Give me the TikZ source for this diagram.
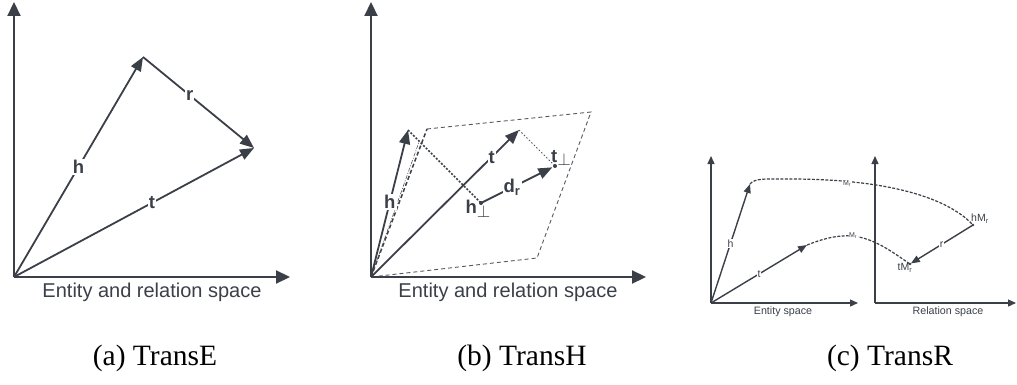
\documentclass[tikz,border=0pt]{standalone}
\usepackage{fontspec}
\setmainfont{Liberation Serif}
\setsansfont{Liberation Sans}
\usetikzlibrary{arrows.meta}
\definecolor{ink}{HTML}{3B3F47}
\definecolor{plane}{HTML}{55585F}
\begin{document}
\begin{tikzpicture}[x=1pt,y=-1pt,
  axis/.style={draw=ink, line width=2.2pt, -{Triangle[length=14pt,width=13pt]}},
  vec/.style={draw=ink, line width=1.8pt, -{Triangle[length=14pt,width=11pt]}},
  lbl/.style={font=\sffamily\bfseries\fontsize{18.5}{18.5}\selectfont, text=ink, fill=white, inner sep=1pt},
  axlbl/.style={font=\sffamily\fontsize{20}{20}\selectfont, text=ink},
  planeline/.style={draw=plane, line width=0.9pt, dash pattern=on 4pt off 3pt},
  saxis/.style={draw=ink, line width=1.2pt, -{Triangle[length=8pt,width=7pt]}},
  svec/.style={draw=ink, line width=1.4pt, -{Triangle[length=9pt,width=7pt]}},
  slbl/.style={font=\sffamily\fontsize{10.5}{10.5}\selectfont, text=ink, fill=white, inner sep=0.5pt},
  tlbl/.style={font=\sffamily\fontsize{7}{7}\selectfont, text=ink, fill=white, inner sep=0.5pt},
  saxlbl/.style={font=\sffamily\fontsize{10.7}{10.7}\selectfont, text=ink},
  curve/.style={draw=ink, line width=1.2pt, dash pattern=on 3pt off 1.5pt},
  captext/.style={font=\fontsize{29.5}{29.5}\selectfont, text=black}
]
\useasboundingbox (0,0) rectangle (1017,385);

% ---------- (a) TransE ----------
\coordinate (aO) at (14,277);
\coordinate (aY) at (14,2);
\coordinate (aX) at (290,277);
\coordinate (aH) at (143,57);
\coordinate (aT) at (254,148);
\draw[axis] (aO) -- (aY);
\draw[axis] (aO) -- (aX);
\draw[vec] (aO) -- node[lbl,pos=0.5] {h} (aH);
\draw[vec] (aH) -- node[lbl,pos=0.42] {r} (aT);
\draw[vec] (aO) -- node[lbl,pos=0.575] {t} (aT);
\node[axlbl] (alab) at (152,292) {Entity and relation space};

% ---------- (b) TransH ----------
\coordinate (bO) at (371,277);
\coordinate (bY) at (371,2);
\coordinate (bX) at (646,277);
\coordinate (bH) at (408,130);
\coordinate (bT) at (519,130);
\coordinate (bP1) at (427,129);
\coordinate (bP2) at (591,112);
\coordinate (bP3) at (537,258);
\coordinate (bD) at (419,142);
\coordinate (hp) at (481,203);
\coordinate (tp) at (555,166);
\draw[planeline] (bP1) -- (bP2) -- (bP3) -- (bO);
\draw[draw=ink, line width=1.5pt, dash pattern=on 4pt off 2.5pt] (bO) -- (bP1);
\draw[draw=plane, line width=0.6pt, dash pattern=on 4pt off 1.5pt on 1pt off 1.5pt] (bO) -- (bD);
\draw[draw=ink, line width=1.6pt, dash pattern=on 2pt off 1.6pt] (bH) -- (hp);
\draw[draw=plane, line width=0.9pt, dash pattern=on 1.5pt off 2pt] (bT) -- (tp);
\draw[axis] (bO) -- (bY);
\draw[axis] (bO) -- (bX);
\draw[vec] (bO) -- node[lbl,pos=0.51] {h} (bH);
\draw[vec] (bO) -- node[lbl,pos=0.815] {t} (bT);
\draw[vec, shorten >=3pt] (hp) -- node[lbl,pos=0.42] {d\textsubscript{r}} (tp);
\fill[ink] (hp) circle (2pt);
\fill[ink] (tp) circle (2pt);
\node[lbl, fill=none, inner sep=0pt] (hpl) at (478,209) {h\raisebox{-0.4ex}{$\perp$}};
\node[lbl, fill=none, inner sep=0pt] (tpl) at (561,158) {t\raisebox{-0.4ex}{$\perp$}};
\node[axlbl] (blab) at (508,292) {Entity and relation space};

% ---------- (c) TransR ----------
\coordinate (cO) at (711,303);
\coordinate (cY) at (711,156);
\coordinate (cX) at (858,303);
\coordinate (rO) at (875,303);
\coordinate (rY) at (875,156);
\coordinate (rX) at (1016,303);
\coordinate (cH) at (750,184);
\coordinate (cT) at (807,245);
\coordinate (hM) at (973,225);
\coordinate (tM) at (910,264);
\draw[saxis] (cO) -- (cY);
\draw[saxis] (cO) -- (cX);
\draw[saxis] (rO) -- (rY);
\draw[saxis] (rO) -- (rX);
\draw[curve] (cH) .. controls (755,178) and (765,179) .. (790,179)
   .. controls (880,179) and (945,195) .. (hM);
\draw[curve] (cT) .. controls (825,238) and (838,235) .. (852,236)
   .. controls (875,238) and (895,254) .. (tM);
\node[tlbl] (m1) at (847,184) {M\textsubscript{r}};
\node[tlbl] (m2) at (853,236) {M\textsubscript{r}};
\draw[svec] (cO) -- node[slbl,pos=0.5] {h} (cH);
\draw[svec] (cO) -- node[slbl,pos=0.5] {t} (cT);
\draw[svec, shorten >=1pt] (hM) -- node[slbl,pos=0.5] {r} (tM);
\fill[ink] (hM) circle (1.3pt);
\fill[ink] (tM) circle (1.3pt);
\node[slbl, fill=none, inner sep=0pt] (hml) at (980,219) {hM\textsubscript{r}};
\node[slbl, fill=none, inner sep=0pt] (tml) at (905,268) {tM\textsubscript{r}};
\node[saxlbl] (clab) at (783,312) {Entity space};
\node[saxlbl] (rlab) at (948,312) {Relation space};

% ---------- captions ----------
\node[captext] (capa) at (155,358) {(a) TransE};
\node[captext] (capb) at (522,358) {(b) TransH};
\node[captext] (capc) at (890,358) {(c) TransR};
\end{tikzpicture}
\end{document}
